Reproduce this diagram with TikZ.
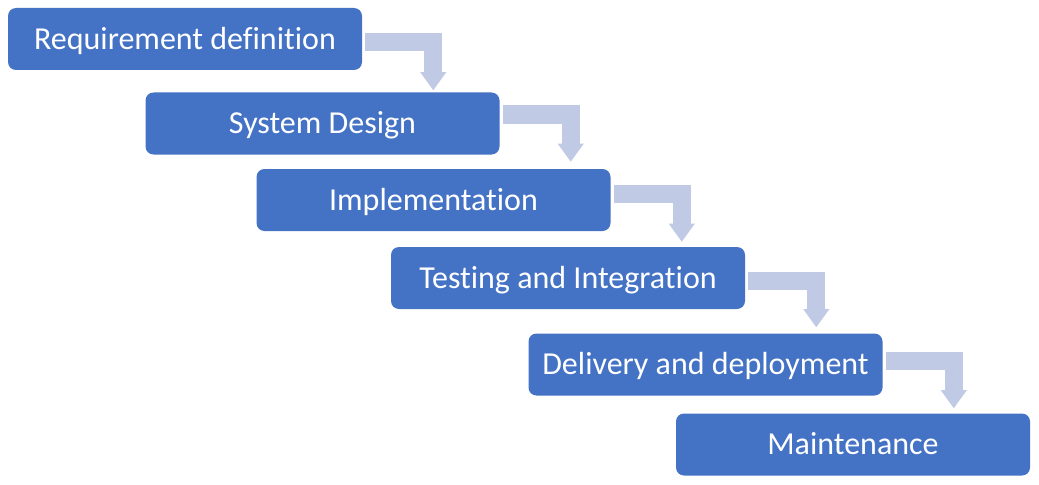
\documentclass[tikz,border=0pt]{standalone}
\usepackage{fontspec}
\setmainfont{Carlito}[Ligatures=NoCommon]
\usetikzlibrary{calc,positioning,arrows.meta}
\definecolor{boxBlue}{HTML}{4472C4}
\definecolor{arrowBlue}{HTML}{C0CAE5}
\tikzstyle{stageBox} = [rectangle, rounded corners=6pt, fill=boxBlue, text=white, minimum width=265.5pt, minimum height=46.5pt, text height=15.5pt, text depth=0pt, font=\fontsize{24}{28}\selectfont]
\tikzstyle{flowArrow} = [draw=arrowBlue, line width=13.5pt, line join=miter, -{Triangle[length=13.5pt,width=19.5pt,line width=0pt,fill=arrowBlue]}]
\begin{document}
\begin{tikzpicture}[x=0.75pt,y=-0.75pt]
      \useasboundingbox (0,0) rectangle (1039,485);
      \node[stageBox] (r1) at (185,39) {Requirement definition};
      \node[stageBox] (r2) at (322.5,123.5) {System Design};
      \node[stageBox] (r3) at (433.5,200) {Implementation};
      \node[stageBox] (r4) at (568,278) {Testing and Integration};
      \node[stageBox] (r5) at (705.5,364.5) {Delivery and deployment};
      \node[stageBox] (r6) at (853,444.5) {Maintenance};
      \foreach \a/\b/\dy/\gap in {r1/r2/3.5/2, r2/r3/-9/7, r3/r4/-6.5/5, r4/r5/2.5/6, r5/r6/-3.5/5}
        \draw[flowArrow] ($(\a.east)+(3,\dy)$) -| ($(\a.east |- \b.north)+(71,-\gap)$);
    \end{tikzpicture}
\end{document}
